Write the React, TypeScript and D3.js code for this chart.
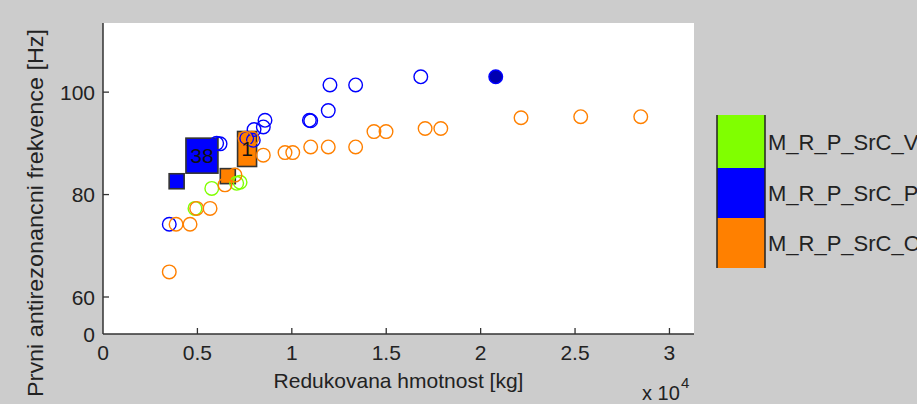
import React from 'react';
import * as d3 from 'd3';

const W = 917;
const H = 404;

// legend groups (top to bottom)
const groups = ['M_R_P_SrC_V', 'M_R_P_SrC_P', 'M_R_P_SrC_O'];
const groupColors = ['#80ff00', '#0000ff', '#ff8000'];

const xTicks = [0, 5000, 10000, 15000, 20000, 25000, 30000];
const xTickLabels = ['0', '0.5', '1', '1.5', '2', '2.5', '3'];
const yTicks = [0, 60, 80, 100];
const yTickLabels = ['0', '60', '80', '100'];

// M_R_P_SrC_V (green)
const vMass = [4870, 5760, 7080, 7260];
const vFreq = [77.3, 81.2, 82.2, 82.4];

// M_R_P_SrC_P (blue)
const pMass = [3510, 6020, 6200, 7610, 7960, 8000, 8490, 8580, 10930, 11000, 11930, 12020, 13380, 16830];
const pFreq = [74.2, 90.0, 89.9, 91.0, 90.6, 92.7, 93.2, 94.5, 94.5, 94.4, 96.4, 101.4, 101.4, 103.0];

// M_R_P_SrC_O (orange)
const oMass = [3510, 3870, 4610, 4960, 5670, 6460, 6990, 7520, 7880, 8490, 9640, 10050, 11000, 11930, 13380, 14350, 14990, 17060, 17890, 22140, 25300, 28480];
const oFreq = [64.9, 74.2, 74.2, 77.3, 77.3, 81.9, 83.8, 91.0, 91.0, 87.7, 88.2, 88.2, 89.3, 89.3, 89.3, 92.3, 92.3, 92.9, 92.9, 95.0, 95.2, 95.2];

// highlighted point
const selMass = [20800];
const selFreq = [103.0];

// cluster boxes
const clusterGroup = [1, 1, 2, 2];
const clusterMass = [3900, 5240, 6610, 7630];
const clusterFreq = [82.6, 87.6, 83.6, 88.9];
const clusterLabel = ['', '38', '', '1'];
const clusterBox = [[15, 15], [32, 35], [15, 15], [19, 35]];

const font = '"Liberation Sans", Arial, sans-serif';
const ink = '#222';

export default function App() {
  const x = d3.scaleLinear().domain([0, 31300]).range([103, 694]);
  // axis squeezes 0..60 into a short strip
  const y = d3.scaleLinear().domain([0, 60, 113.5]).range([334, 297, 23]);

  const series = [
    { mass: vMass, freq: vFreq, color: groupColors[0] },
    { mass: pMass, freq: pFreq, color: groupColors[1] },
    { mass: oMass, freq: oFreq, color: groupColors[2] },
  ];

  const [x0, x1] = x.range();
  const yBot = y(0);
  const yTop = y(113.5);

  const legX = 717;
  const legW = 48;
  const legTops = [115, 168, 218, 268];

  return (
    <svg width={W} height={H} style={{ position: 'absolute', left: 0, top: 0 }} fontFamily={font}>
      <rect width={W} height={H} fill="#cccccc" />
      <rect x={x0} y={yTop} width={x1 - x0} height={yBot - yTop} fill="#fff" />

      {/* cluster boxes */}
      {clusterMass.map((m, i) => {
        const [bw, bh] = clusterBox[i];
        return (
          <rect key={'b' + i} x={x(m) - bw / 2} y={y(clusterFreq[i]) - bh / 2} width={bw} height={bh}
            fill={groupColors[clusterGroup[i]]} stroke="#333" strokeWidth={1.6} />
        );
      })}

      {series.map((s, si) =>
        s.mass.map((m, i) => (
          <circle key={si + '-' + i} cx={x(m)} cy={y(s.freq[i])} r={6.8} fill="none" stroke={s.color} strokeWidth={1.4} />
        ))
      )}
      {selMass.map((m, i) => (
        <circle key={'s' + i} cx={x(m)} cy={y(selFreq[i])} r={6.8} fill="#0000b0" stroke="#0000ff" strokeWidth={1.4} />
      ))}

      {clusterMass.map((m, i) => (
        <text key={'t' + i} x={x(m)} y={y(clusterFreq[i]) + 7} textAnchor="middle" fontSize={21} fill="#111">
          {clusterLabel[i]}
        </text>
      ))}

      {/* axes */}
      <line x1={x0} x2={x0} y1={yTop} y2={yBot} stroke="#333" strokeWidth={1.5} />
      <line x1={x0} x2={x1} y1={yBot} y2={yBot} stroke="#333" strokeWidth={1.5} />
      {yTicks.map((t, i) => (
        <g key={'yt' + i}>
          {i > 0 && <line x1={x0} x2={x0 + 6} y1={y(t)} y2={y(t)} stroke="#333" strokeWidth={1.3} />}
          <text x={95} y={y(t) + 7.5} textAnchor="end" fontSize={21} fill={ink}>{yTickLabels[i]}</text>
        </g>
      ))}
      {xTicks.map((t, i) => (
        <g key={'xt' + i}>
          {i > 0 && <line x1={x(t)} x2={x(t)} y1={yBot} y2={yBot - 6} stroke="#333" strokeWidth={1.3} />}
          <text x={x(t)} y={360} textAnchor="middle" fontSize={21} fill={ink}>{xTickLabels[i]}</text>
        </g>
      ))}

      <text x={(x0 + x1) / 2} y={388} textAnchor="middle" fontSize={21} fill={ink}>Redukovana hmotnost [kg]</text>
      <text x={642} y={400} fontSize={20} fill={ink}>x 10</text>
      <text x={681} y={388} fontSize={15} fill={ink}>4</text>
      <text transform="translate(43,213) rotate(-90)" textAnchor="middle" fontSize={22} fill={ink}
        textLength={368} lengthAdjust="spacingAndGlyphs">Prvni antirezonancni frekvence [Hz]</text>

      {/* legend */}
      {groups.map((g, i) => (
        <g key={g}>
          <rect x={legX} y={legTops[i]} width={legW} height={legTops[i + 1] - legTops[i]} fill={groupColors[i]} />
          <text x={768} y={(legTops[i] + legTops[i + 1]) / 2 + 8} fontSize={22} fill={ink}>{g}</text>
        </g>
      ))}
      <line x1={legX} x2={legX} y1={legTops[0]} y2={legTops[3]} stroke="#222" strokeWidth={1.5} />
      <line x1={legX + legW} x2={legX + legW} y1={legTops[0]} y2={legTops[3]} stroke="#222" strokeWidth={1.5} />
    </svg>
  );
}
